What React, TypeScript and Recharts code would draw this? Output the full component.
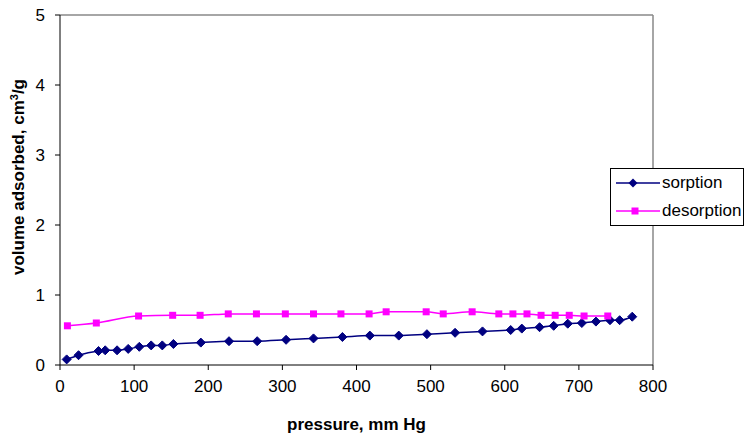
import { LineChart, Line, XAxis, YAxis, ReferenceLine } from 'recharts';

const sorptionPressure = [9, 25, 52, 61, 77, 92, 107, 123, 138, 153, 190, 228, 266, 305, 342, 381, 418, 457, 495, 533, 570, 608, 623, 647, 666, 685, 704, 723, 742, 755, 772];
const sorptionVolume = [0.08, 0.14, 0.2, 0.21, 0.21, 0.23, 0.26, 0.28, 0.28, 0.3, 0.32, 0.34, 0.34, 0.36, 0.38, 0.4, 0.42, 0.42, 0.44, 0.46, 0.48, 0.5, 0.52, 0.54, 0.56, 0.59, 0.6, 0.62, 0.64, 0.64, 0.69];

const desorptionPressure = [10, 49, 106, 152, 189, 227, 265, 304, 342, 379, 417, 440, 494, 517, 556, 592, 611, 630, 649, 668, 687, 707, 739];
const desorptionVolume = [0.56, 0.6, 0.7, 0.71, 0.71, 0.73, 0.73, 0.73, 0.73, 0.73, 0.73, 0.76, 0.76, 0.73, 0.76, 0.73, 0.73, 0.73, 0.71, 0.71, 0.71, 0.7, 0.7];

const xTicks = [0, 100, 200, 300, 400, 500, 600, 700, 800];
const yTicks = [0, 1, 2, 3, 4, 5];

const sorption = sorptionPressure.map((p, i) => ({ p, v: sorptionVolume[i] }));
const desorption = desorptionPressure.map((p, i) => ({ p, v: desorptionVolume[i] }));

const FONT = '"Liberation Sans", Arial, sans-serif';
const NAVY = '#000080';
const MAGENTA = '#FF00FF';

const Diamond = (props: any) => {
  const { cx, cy } = props;
  if (cx == null || cy == null) return null;
  const r = 4.5;
  return <path d={`M${cx},${cy - r}L${cx + r},${cy}L${cx},${cy + r}L${cx - r},${cy}Z`} fill={NAVY} stroke={NAVY} />;
};

const Square = (props: any) => {
  const { cx, cy } = props;
  if (cx == null || cy == null) return null;
  return <rect x={cx - 3.5} y={cy - 3.5} width={7} height={7} fill={MAGENTA} />;
};

const YLabel = () => (
  <text
    transform="translate(24, 177) rotate(-90)"
    textAnchor="middle"
    fontFamily={FONT}
    fontSize={17}
    fontWeight="bold"
    fill="#000"
  >
    volume adsorbed, cm
    <tspan fontSize={11} dy={-6}>3</tspan>
    <tspan dy={6}>/g</tspan>
  </text>
);

// legend drawn by hand, like the Excel box on the right
const LegendBox = () => (
  <div
    style={{
      position: 'absolute',
      left: 610,
      top: 168,
      width: 132,
      height: 56,
      border: '1px solid #000',
      background: '#fff',
      fontFamily: FONT,
      fontSize: 17,
      color: '#000',
    }}
  >
    <div style={{ display: 'flex', alignItems: 'center', height: 28 }}>
      <svg width={51} height={12} style={{ flexShrink: 0 }}>
        <line x1={5} y1={6} x2={49} y2={6} stroke={NAVY} strokeWidth={1.5} />
        <path d="M22,1.5L26.5,6L22,10.5L17.5,6Z" fill={NAVY} />
      </svg>
      <span>sorption</span>
    </div>
    <div style={{ display: 'flex', alignItems: 'center', height: 28 }}>
      <svg width={51} height={12} style={{ flexShrink: 0 }}>
        <line x1={5} y1={6} x2={49} y2={6} stroke={MAGENTA} strokeWidth={1.5} />
        <rect x={20.5} y={2.5} width={7} height={7} fill={MAGENTA} />
      </svg>
      <span>desorption</span>
    </div>
  </div>
);

export default function App() {
  return (
    <div style={{ position: 'absolute', left: 0, top: 0, width: 746, height: 435, background: '#fff' }}>
      <LineChart width={746} height={435} margin={{ top: 15, right: 93, bottom: 0, left: 0 }}>
        <XAxis
          dataKey="p"
          type="number"
          domain={[0, 800]}
          ticks={xTicks}
          allowDuplicatedCategory={false}
          stroke="#000"
          tickSize={5}
          tick={{ fill: '#000', fontFamily: FONT, fontSize: 17 }}
          tickMargin={10}
          label={{
            value: 'pressure, mm Hg',
            position: 'insideBottom',
            offset: 0,
            dy: -5,
            style: { fontFamily: FONT, fontSize: 17, fontWeight: 'bold', fill: '#000' },
          }}
          height={70}
        />
        <YAxis
          dataKey="v"
          type="number"
          domain={[0, 5]}
          ticks={yTicks}
          stroke="#000"
          tickSize={5}
          tickMargin={10}
          width={60}
          tick={{ fill: '#000', fontFamily: FONT, fontSize: 17 }}
          label={<YLabel />}
        />
        <ReferenceLine y={5} stroke="#888" strokeWidth={1.5} />
        <ReferenceLine x={800} stroke="#888" strokeWidth={1.5} />
        <Line
          data={sorption}
          dataKey="v"
          name="sorption"
          type="monotone"
          stroke={NAVY}
          strokeWidth={1.5}
          dot={<Diamond />}
          isAnimationActive={false}
        />
        <Line
          data={desorption}
          dataKey="v"
          name="desorption"
          type="monotone"
          stroke={MAGENTA}
          strokeWidth={1.5}
          dot={<Square />}
          isAnimationActive={false}
        />
      </LineChart>
      <LegendBox />
    </div>
  );
}
